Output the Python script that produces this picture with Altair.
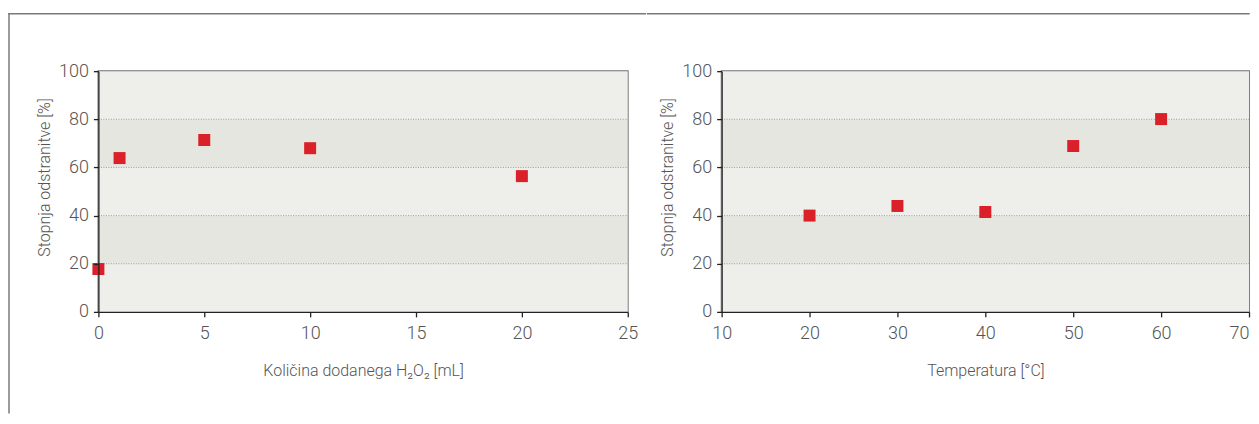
import altair as alt
import pandas as pd

# ---- data ----
h2o2_ml = [0, 1, 5, 10, 20]
h2o2_removal = [17.8, 63.9, 71.4, 68.0, 56.4]
temp_c = [20, 30, 40, 50, 60]
temp_removal = [40.0, 44.0, 41.5, 68.9, 80.1]

band_lo = [0, 20, 40, 60, 80]
band_hi = [20, 40, 60, 80, 100]
band_shade = ["light", "dark", "light", "dark", "light"]
grid_vals = [20, 40, 60, 80]
y_ticks = [0, 20, 40, 60, 80, 100]
x1_ticks = [0, 5, 10, 15, 20, 25]
x2_ticks = [10, 20, 30, 40, 50, 60, 70]

y_title = "Stopnja odstranitve [%]"
x1_title = "Količina dodanega H₂O₂ [mL]"
x2_title = "Temperatura [°C]"

FONT = "Roboto"
RED = "#DA2129"
TXT = "#555555"
H = 241


def panel(xs, ys, xdom, xticks, xtitle, width, frame, last_tick):
    pts = pd.DataFrame({"x": xs, "y": ys})
    bands = pd.DataFrame({"lo": band_lo, "hi": band_hi, "shade": band_shade})
    grid = pd.DataFrame({"g": grid_vals})
    yscale = alt.Scale(domain=[0, 100], nice=False, zero=False)
    xscale = alt.Scale(domain=xdom, nice=False, zero=False)
    yaxis = alt.Axis(
        values=y_ticks, title=y_title, grid=False, zindex=1,
        labelPadding=5, titlePadding=6, titleY=106,
    )
    xaxis_kw = dict(
        values=xticks, title=xtitle, labelFlush=False, labelPadding=8,
        titlePadding=20, grid=False, zindex=1,
    )
    if last_tick is not None:
        xaxis_kw["labelAlign"] = {
            "condition": {"test": f"datum.value >= {last_tick}", "value": "right"},
            "value": "center",
        }

    rect = alt.Chart(bands).mark_rect().encode(
        y=alt.Y("lo:Q", scale=yscale, axis=yaxis, title=y_title),
        y2="hi:Q",
        x=alt.value(0),
        x2=alt.value(width),
        color=alt.Color(
            "shade:N",
            scale=alt.Scale(domain=["light", "dark"], range=["#EEEEEA", "#E6E6E1"]),
            legend=None,
        ),
    )
    rules = alt.Chart(grid).mark_rule(color="#9a9a9a", strokeWidth=1, strokeDash=[1, 1.5]).encode(
        y=alt.Y("g:Q", scale=yscale, axis=yaxis, title=y_title),
        x=alt.value(0),
        x2=alt.value(width),
    )
    points = alt.Chart(pts).mark_square(size=144, color=RED, opacity=1).encode(
        x=alt.X("x:Q", scale=xscale, axis=alt.Axis(**xaxis_kw)),
        y=alt.Y("y:Q", scale=yscale, axis=yaxis, title=y_title),
    )
    frame_df = pd.DataFrame({"k": [0]})
    layers = [rect, rules, points]
    for (x0, x1, y0, y1) in frame:
        enc = dict(x=alt.value(x0), y=alt.value(y0))
        if x1 is not None:
            enc["x2"] = alt.value(x1)
        if y1 is not None:
            enc["y2"] = alt.value(y1)
        layers.append(
            alt.Chart(frame_df)
            .mark_rule(color="#7a7a7a", strokeWidth=1.5, strokeCap="square")
            .encode(**enc)
        )
    return alt.layer(*layers).properties(width=width, height=H)


left = panel(
    h2o2_ml, h2o2_removal, [0, 25], x1_ticks, x1_title, 530,
    frame=[(-89.5, None, -57.5, 342), (-89.5, 547.5, -57.5, None)],
    last_tick=None,
)
right = panel(
    temp_c, temp_removal, [10, 70], x2_ticks, x2_title, 528,
    frame=[(-74.25, 528, -57.5, None)],
    last_tick=70,
)

chart = (
    alt.hconcat(left, right, spacing=-3)
    .properties(padding={"left": -1.5, "top": 3, "right": 0, "bottom": 0})
    .configure_view(stroke="#707070", strokeWidth=1.8)
    .configure_axis(
        domainColor="#222222", domainWidth=1.3, tickColor="#222222", tickSize=5, tickWidth=1.3,
        labelFont=FONT, labelFontSize=18, labelFontWeight=300, labelColor=TXT,
        titleFont=FONT, titleFontSize=16, titleColor=TXT, titleFontWeight=300,
    )
)

chart.save("out.html", embed_options={"renderer": "svg", "actions": False})
